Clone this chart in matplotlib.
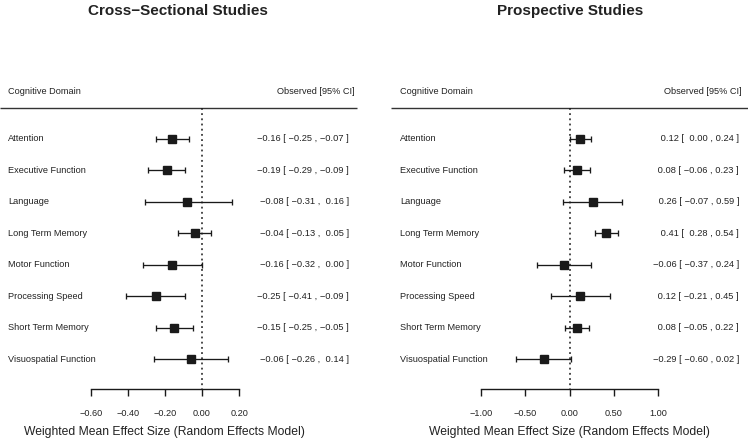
# forest plots - cognitive domains, cross-sectional vs prospective
import numpy as np
import matplotlib
matplotlib.use("Agg")
import matplotlib.pyplot as plt

plt.rcParams['font.family'] = ['Liberation Sans', 'DejaVu Sans']

# --- data ---
domains = ["Attention", "Executive Function", "Language", "Long Term Memory",
           "Motor Function", "Processing Speed", "Short Term Memory",
           "Visuospatial Function"]

est_cs = [-0.16, -0.19, -0.08, -0.04, -0.16, -0.25, -0.15, -0.06]
lo_cs  = [-0.25, -0.29, -0.31, -0.13, -0.32, -0.41, -0.25, -0.26]
hi_cs  = [-0.07, -0.09,  0.16,  0.05,  0.00, -0.09, -0.05,  0.14]

est_pr = [0.12, 0.08, 0.26, 0.41, -0.06, 0.12, 0.08, -0.29]
lo_pr  = [0.00, -0.06, -0.07, 0.28, -0.37, -0.21, -0.05, -0.60]
hi_pr  = [0.24, 0.23, 0.59, 0.54, 0.24, 0.45, 0.22, 0.02]

ticks_cs = [-0.60, -0.40, -0.20, 0.00, 0.20]
ticks_pr = [-1.00, -0.50, 0.00, 0.50, 1.00]

TXT = "#222222"
INK = "#1a1a1a"


def fmt_col(vals):
    s = [f"{v:.2f}" for v in vals]
    w = max(len(x) for x in s)
    return [x.rjust(w) for x in s]


def annotations(est, lo, hi):
    e, l, h = fmt_col(est), fmt_col(lo), fmt_col(hi)
    out = []
    for a, b, c in zip(e, l, h):
        out.append(f"{a} [ {b} , {c} ]".replace("-", "\u2212"))
    return out


def draw_panel(ax, title, est, lo, hi, ticks, xlim, label_x, ann_x, head_x,
               line_x, title_x):
    rows = np.arange(len(domains))
    ax.set_xlim(*xlim)
    ax.set_ylim(9.70, -4.42)

    # header
    ax.plot(line_x, [-1, -1], color="#333333", lw=1.0, solid_capstyle="butt")
    ax.text(label_x, -1.5, "Cognitive Domain", ha="left", va="center",
            fontsize=6.6, color=TXT)
    ax.text(head_x, -1.5, "Observed [95% CI]", ha="right", va="center",
            fontsize=6.6, color=TXT)

    # reference line
    ax.plot([0, 0], [-1, 7.95], color=INK, lw=1.1, linestyle=(0, (1.2, 2.2)))

    # estimates
    err = [np.array(est) - np.array(lo), np.array(hi) - np.array(est)]
    ax.errorbar(est, rows, xerr=err, fmt="s", color=INK, ms=5.4, lw=0.95,
                capsize=2.2, capthick=0.95)

    for r, name, ann in zip(rows, domains, annotations(est, lo, hi)):
        ax.text(label_x, r, name, ha="left", va="center", fontsize=6.6, color=TXT)
        ax.text(ann_x, r, ann, ha="right", va="center", fontsize=6.7, color=TXT)

    # x axis
    for s in ["top", "right", "left"]:
        ax.spines[s].set_visible(False)
    ax.spines["bottom"].set_position(("data", 7.95))
    ax.spines["bottom"].set_bounds(ticks[0], ticks[-1])
    ax.spines["bottom"].set_linewidth(1.0)
    ax.spines["bottom"].set_color(INK)
    ax.set_yticks([])
    ax.set_xticks(ticks)
    ax.set_xticklabels([f"{t:.2f}".replace("-", "\u2212") for t in ticks])
    ax.tick_params(axis="x", direction="out", length=5, width=1.0, color=INK,
                   pad=9.5, labelsize=6.6, labelcolor=TXT)
    ax.patch.set_visible(False)

    ax.text((ticks[0] + ticks[-1]) / 2, 9.32,
            "Weighted Mean Effect Size (Random Effects Model)",
            ha="center", va="center", fontsize=8.7, color=TXT)
    ax.text(title_x, -3.94, title, ha="center", va="baseline", fontsize=11,
            fontweight="bold", color=TXT)


fig = plt.figure(figsize=(7.48, 4.44), dpi=100)
fig.patch.set_facecolor("white")

ax1 = fig.add_axes([0.0, 0.0, 0.5, 1.0])
ax2 = fig.add_axes([0.5, 0.0, 0.5, 1.0])

draw_panel(ax1, "Cross\u2212Sectional Studies", est_cs, lo_cs, hi_cs, ticks_cs,
           xlim=(-1.0895, 0.9277), label_x=-1.046, ann_x=0.793, head_x=0.825,
           line_x=[-1.0895, 0.836], title_x=-0.13)
draw_panel(ax2, "Prospective Studies", est_pr, lo_pr, hi_pr, ticks_pr,
           xlim=(-2.206, 2.010), label_x=-1.914, ann_x=1.909, head_x=1.937,
           line_x=[-2.015, 2.010], title_x=0.0)

fig.savefig("out.png", dpi=100, facecolor="white")
plt.close(fig)
